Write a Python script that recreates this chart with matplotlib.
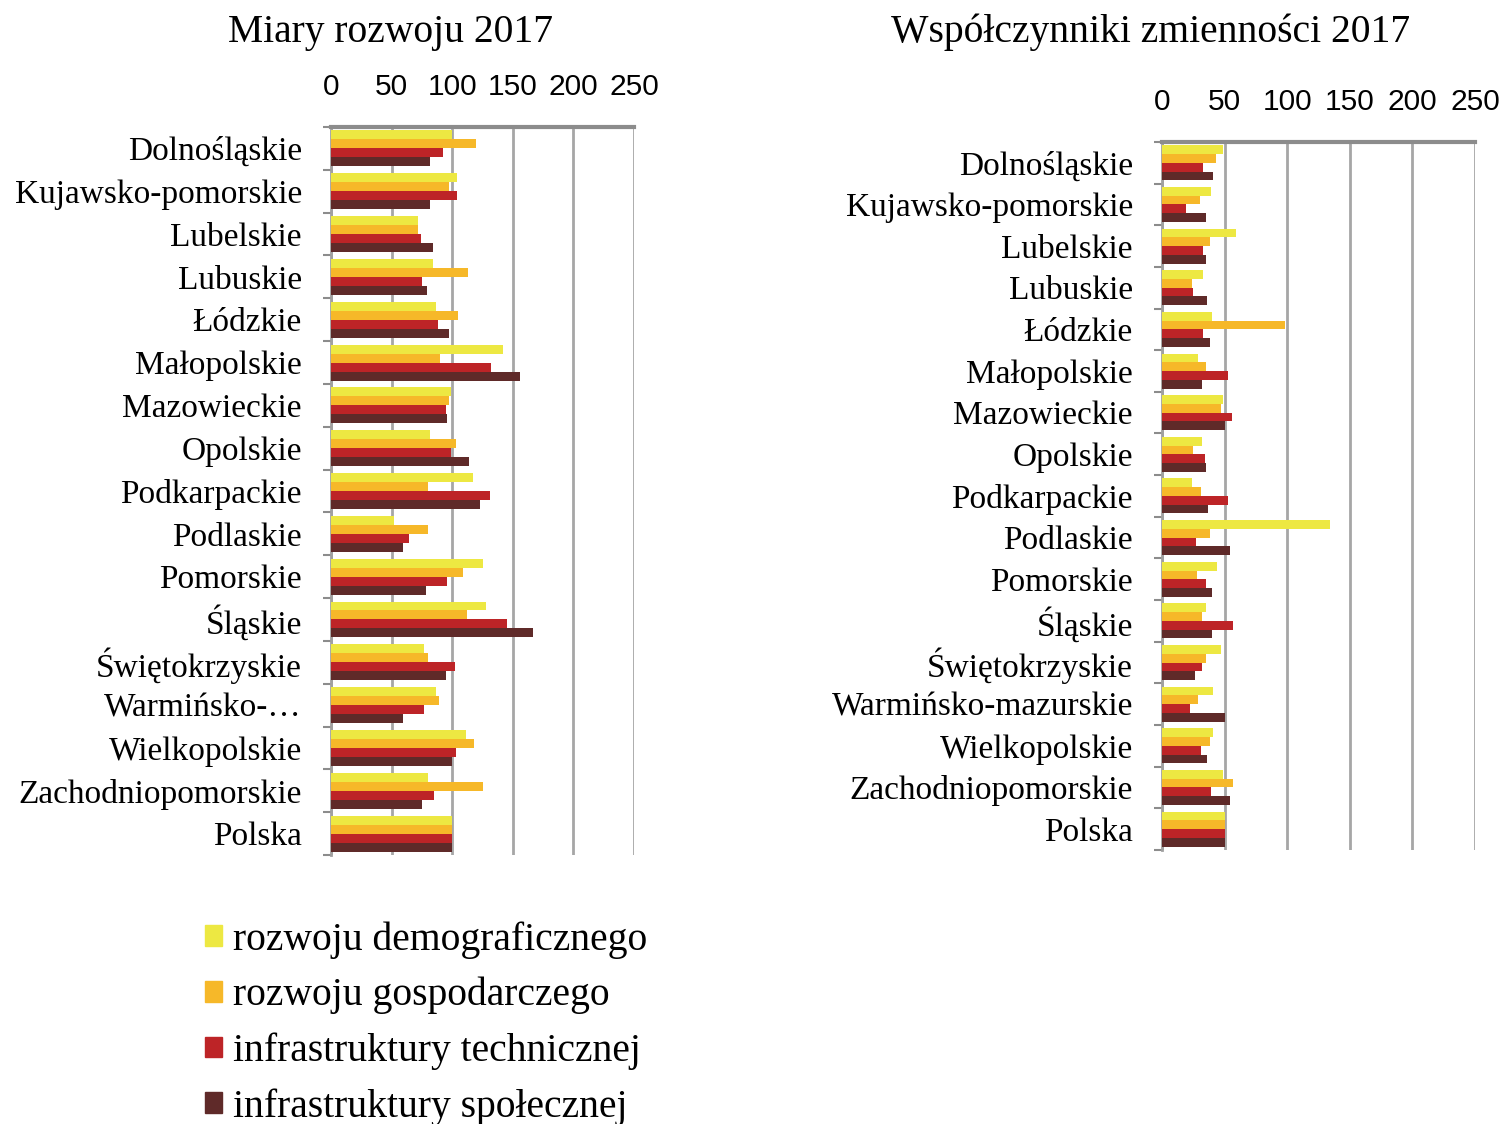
import numpy as np
import matplotlib
matplotlib.use('Agg')
import matplotlib.pyplot as plt
from matplotlib.patches import Patch

regions_left = ["Dolnośląskie", "Kujawsko-pomorskie", "Lubelskie", "Lubuskie", "Łódzkie",
                "Małopolskie", "Mazowieckie", "Opolskie", "Podkarpackie", "Podlaskie",
                "Pomorskie", "Śląskie", "Świętokrzyskie", "Warmińsko-…", "Wielkopolskie",
                "Zachodniopomorskie", "Polska"]
regions_right = regions_left[:13] + ["Warmińsko-mazurskie"] + regions_left[14:]

series_names = ["rozwoju demograficznego", "rozwoju gospodarczego",
                "infrastruktury technicznej", "infrastruktury społecznej"]
colors = ["#EDE842", "#F6B829", "#BD2427", "#5F2A29"]

# Miary rozwoju 2017
miary_demo = [100, 104, 72, 84, 87, 142, 99, 82, 117, 52, 125, 128, 77, 87, 111, 80, 100]
miary_gosp = [120, 97, 72, 113, 105, 90, 97, 103, 80, 80, 109, 112, 80, 89, 118, 125, 100]
miary_tech = [92, 104, 74, 75, 88, 132, 95, 99, 131, 64, 96, 145, 102, 77, 103, 85, 100]
miary_spol = [82, 82, 84, 79, 97, 156, 96, 114, 123, 59, 78, 167, 95, 59, 100, 75, 100]

# Współczynniki zmienności 2017
wsp_demo = [49, 39, 59, 33, 40, 29, 49, 32, 24, 134, 44, 35, 47, 41, 41, 49, 50]
wsp_gosp = [43, 30, 38, 24, 98, 35, 47, 25, 31, 38, 28, 32, 35, 29, 38, 57, 50]
wsp_tech = [33, 19, 33, 25, 33, 53, 56, 34, 53, 27, 35, 57, 32, 22, 31, 39, 50]
wsp_spol = [41, 35, 35, 36, 38, 32, 50, 35, 37, 54, 40, 40, 26, 50, 36, 54, 50]

ticks = [0, 50, 100, 150, 200, 250]

serif = ['Liberation Serif', 'DejaVu Serif']
sans = ['Liberation Sans', 'DejaVu Sans']

fig = plt.figure(figsize=(15.06, 11.24), dpi=100)


def panel(rect, labels, data, title, title_xy):
    ax = fig.add_axes(rect)
    y = np.arange(len(labels))
    h = 0.21
    for k, vals in enumerate(data):
        ax.barh(y + (k - 1.5) * h, vals, height=h, color=colors[k], zorder=3)
    ax.set_xlim(0, 250)
    ax.set_ylim(len(labels) - 0.5, -0.5)
    ax.set_xticks(ticks)
    ax.xaxis.tick_top()
    ax.tick_params(axis='x', length=0, pad=19, labelsize=21.5)
    for t in ax.get_xticklabels():
        t.set_fontfamily(sans)
    ax.grid(axis='x', color='#a6a6a6', linewidth=2, zorder=0)
    ax.set_yticks(y)
    ax.set_yticklabels(labels, fontsize=24, fontfamily=serif)
    ax.tick_params(axis='y', length=0, pad=21)
    ax.set_yticks(np.arange(len(labels) + 1) - 0.5, minor=True)
    ax.tick_params(axis='y', which='minor', length=6, width=1.5, color='#8c8c8c')
    for s in ['right', 'bottom']:
        ax.spines[s].set_visible(False)
    ax.spines['top'].set_color('#8c8c8c')
    ax.spines['top'].set_linewidth(3)
    ax.spines['left'].set_color('#a0a0a0')
    ax.spines['left'].set_linewidth(2)
    fig.text(title_xy[0], title_xy[1], title, ha='center', va='center',
             fontsize=28.5, fontfamily=serif)
    return ax


panel([0.2198, 0.2393, 0.2012, 0.6477], regions_left,
      [miary_demo, miary_gosp, miary_tech, miary_spol],
      "Miary rozwoju 2017", (0.259, 0.971))
panel([0.7716, 0.2438, 0.2078, 0.6299], regions_right,
      [wsp_demo, wsp_gosp, wsp_tech, wsp_spol],
      "Współczynniki zmienności 2017", (0.764, 0.971))

handles = [Patch(color=c) for c in colors]
fig.legend(handles, series_names, loc='upper left', bbox_to_anchor=(0.136, 0.1805),
           frameon=False, prop={'family': serif, 'size': 28.5},
           handlelength=0.43, handleheight=0.43, handletextpad=0.27,
           labelspacing=0.46, borderpad=0, borderaxespad=0)

fig.savefig('out.png', dpi=100)
